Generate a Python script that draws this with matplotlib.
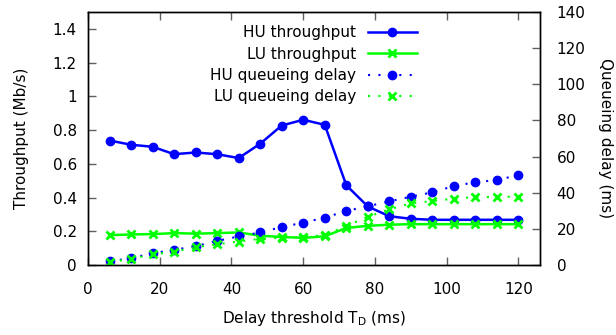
import matplotlib
matplotlib.use("Agg")
import matplotlib.pyplot as plt
from matplotlib.ticker import FuncFormatter

# Data
td = [6, 12, 18, 24, 30, 36, 42, 48, 54, 60, 66, 72, 78, 84, 90, 96, 102, 108, 114, 120]
hu_thr = [0.738, 0.713, 0.701, 0.657, 0.667, 0.657, 0.634, 0.719, 0.827, 0.861, 0.831,
          0.473, 0.347, 0.289, 0.274, 0.268, 0.268, 0.268, 0.268, 0.268]
lu_thr = [0.177, 0.181, 0.183, 0.189, 0.186, 0.189, 0.193, 0.174, 0.166, 0.161, 0.170,
          0.220, 0.232, 0.239, 0.242, 0.242, 0.242, 0.242, 0.242, 0.242]
hu_delay = [2.0, 3.8, 6.5, 8.4, 10.4, 13.3, 15.8, 18.0, 21.0, 23.4, 26.2,
            29.9, 32.5, 35.2, 37.8, 40.2, 43.7, 45.8, 47.0, 49.8]
lu_delay = [1.7, 3.3, 5.9, 7.3, 9.8, 11.5, 13.0, 14.5, 15.1, 15.3, 16.6,
            21.6, 26.7, 30.8, 34.1, 35.4, 36.7, 37.6, 37.6, 37.9]

x_ticks = [0, 20, 40, 60, 80, 100, 120]
y_ticks = [0, 0.2, 0.4, 0.6, 0.8, 1.0, 1.2, 1.4]
y2_ticks = [0, 20, 40, 60, 80, 100, 120, 140]

plt.rcParams['font.family'] = ['DejaVu Sans']
plt.rcParams['font.size'] = 11
plt.rcParams['mathtext.default'] = 'regular'

fig = plt.figure(figsize=(6.16, 3.35), dpi=100)
ax = fig.add_axes([88/616, 1-265/335, (540-88)/616, (265-12)/335])
ax2 = ax.twinx()

blue = '#0000ff'
green = '#00ff00'

l1, = ax.plot(td, hu_thr, '-', color=blue, lw=1.8, marker='o', ms=6, label='HU throughput')
l2, = ax.plot(td, lu_thr, '-', color=green, lw=1.8, marker='x', ms=6, mew=2, label='LU throughput')
l3, = ax2.plot(td, hu_delay, ':', color=blue, lw=1.5, marker='o', ms=6, label='HU queueing delay',
               dashes=(1, 4))
l4, = ax2.plot(td, lu_delay, ':', color=green, lw=1.5, marker='x', ms=6, mew=2, label='LU queueing delay',
               dashes=(1, 4))

ax.set_xlim(0, 126)
ax.set_ylim(0, 1.5)
ax2.set_ylim(0, 140)
ax.set_xticks(x_ticks)
ax.set_yticks(y_ticks)
ax2.set_yticks(y2_ticks)

def fmt(v, pos):
    s = ('%.1f' % v).rstrip('0').rstrip('.')
    return s
ax.yaxis.set_major_formatter(FuncFormatter(fmt))

ax.tick_params(axis='both', direction='in', length=6, width=1, color='#606060', pad=8)
ax.tick_params(axis='x', top=True, pad=12)
ax.tick_params(axis='y', right=False)
ax2.tick_params(axis='y', direction='in', length=6, width=1, color='#606060', pad=12)

for a in (ax, ax2):
    for sp in a.spines.values():
        sp.set_linewidth(1)
        sp.set_color('black')

ax.set_xlabel('Delay threshold $T_D$ (ms)', labelpad=9)
ax.set_ylabel('Throughput (Mb/s)', labelpad=17)
ax2.set_ylabel('Queueing delay (ms)', rotation=270, labelpad=20)

leg = ax.legend(handles=[l1, l2, l3, l4], loc='upper right', bbox_to_anchor=((423-88)/452, 0.972),
                frameon=False, markerfirst=False, numpoints=1, handlelength=3.2, handletextpad=0.8,
                labelspacing=0.42, borderaxespad=0)
for t in leg.get_texts():
    t.set_ha('right')
ax2.set_zorder(ax.get_zorder()+1)
ax2.patch.set_visible(False)

fig.savefig('out.png', dpi=100)
